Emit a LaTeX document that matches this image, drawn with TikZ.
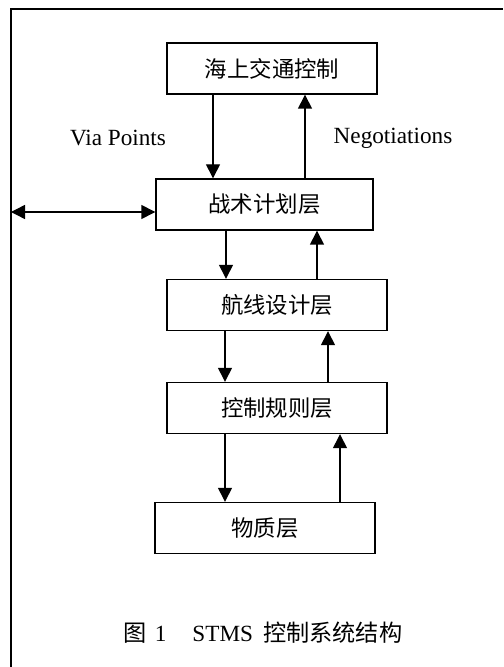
\documentclass[tikz,border=0pt]{standalone}
\usepackage{fontspec}
\setmainfont{Liberation Serif}
\newfontfamily\cjk{Noto Sans CJK SC}
\usetikzlibrary{arrows.meta, calc, positioning}

\tikzset{
  layer/.style={draw, line width=0.7pt, minimum height=25.5pt, inner sep=0pt,
    font=\cjk\fontsize{11.2}{13}\selectfont},
  arr/.style={-{Triangle[length=7pt,width=7pt]}, line width=0.7pt},
  dblarr/.style={{Triangle[length=7pt,width=7pt]}-{Triangle[length=7pt,width=7pt]}, line width=0.7pt},
  lbl/.style={font=\fontsize{11.6}{13}\selectfont}
}

\begin{document}
\begin{tikzpicture}[x=0.5pt,y=-0.5pt]
\useasboundingbox (0,0) rectangle (503,667);
    % frame
    \draw[line width=0.75pt] (11,667)--(11,9)--(503,9);

    % layers
    \node[layer,minimum width=105pt] (sea) at (272,68.5) {海上交通控制};
    \node[layer,minimum width=108.5pt] (tac) at (264.5,204.5) {战术计划层};
    \node[layer,minimum width=110pt] (route) at (277,305) {航线设计层};
    \node[layer,minimum width=110pt] (rule) at (277,408) {控制规则层};
    \node[layer,minimum width=110pt] (phys) at (265,528) {物质层};

    % down / up links
    \draw[arr] (sea.south -| 213,0)--(tac.north -| 213,0);
    \draw[arr] (tac.north -| 305,0)--(sea.south -| 305,0);
    \draw[arr] (tac.south -| 226,0)--(route.north -| 226,0);
    \draw[arr] (route.north -| 317,0)--(tac.south -| 317,0);
    \draw[arr] (route.south -| 225,0)--(rule.north -| 225,0);
    \draw[arr] (rule.north -| 328,0)--(route.south -| 328,0);
    \draw[arr] (rule.south -| 225,0)--(phys.north -| 225,0);
    \draw[arr] (phys.north -| 340,0)--(rule.south -| 340,0);

    % outside link
    \coordinate (edge) at (11,212);
    \draw[dblarr] (edge)--(edge -| tac.west);

    \node[lbl] (via) at (118,138) {Via Points};
    \node[lbl] (neg) at (393,138) {Negotiations};

    \node[lbl] (cap) at (263,633) {{\cjk 图}\hspace{4pt}1\hspace{13pt}STMS\hspace{5pt}{\cjk 控制系统结构}};
\end{tikzpicture}
\end{document}
